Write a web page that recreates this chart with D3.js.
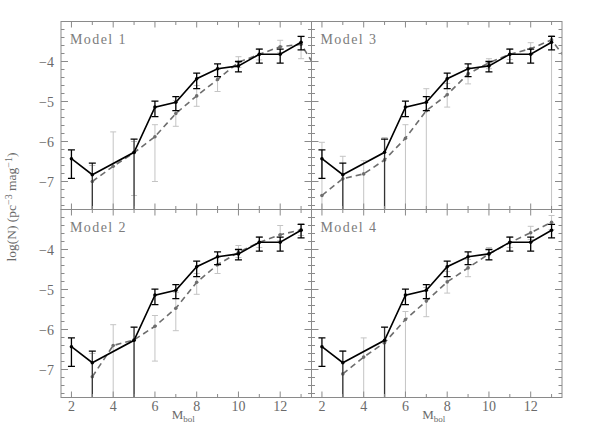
<!DOCTYPE html>
<html><head><meta charset="utf-8">
<script src="https://cdn.jsdelivr.net/npm/d3@7"></script>
<style>body{margin:0;background:#fff}</style>
</head><body>
<svg id="c" width="598" height="447"></svg>
<script>
// ---- data ----
const xTickValues = [2,4,6,8,10,12];
const yTickValues = [-4,-5,-6,-7];
const panelNames = ["Model 1","Model 3","Model 2","Model 4"];
const BOTTOM = -9; // error bar extends beyond lower frame

// observed luminosity function (same in all panels)
const obsMag   = [2,3,5,6,7,8,9,10,11,12,13];
const obsLogN  = [-6.43,-6.83,-6.27,-5.14,-5.02,-4.43,-4.18,-4.11,-3.82,-3.82,-3.52];
const obsHi    = [-6.21,-6.54,-5.94,-4.99,-4.88,-4.29,-4.06,-4.00,-3.69,-3.69,-3.37];
const obsLo    = [-6.92,BOTTOM,BOTTOM,-5.38,-5.23,-4.68,-4.38,-4.26,-4.04,-4.04,-3.71];

// models
const m1Mag  = [3,4,5,6,7,8,9,10,11,12,13,14];
const m1LogN = [-7.00,-6.62,-6.28,-5.88,-5.30,-4.86,-4.45,-4.02,-3.82,-3.63,-3.57,-4.40];
const m1Hi   = [-6.60,-5.76,-6.00,-5.58,-4.98,-4.60,-4.20,-3.88,-3.68,-3.47,-3.38,null];
const m1Lo   = [BOTTOM,BOTTOM,-7.35,-7.00,-5.62,-5.12,-4.75,-4.15,-3.96,-3.78,-3.93,null];

const m3Mag  = [2,3,4,5,6,7,8,9,10,11,12,13,14];
const m3LogN = [-7.35,-6.93,-6.81,-6.46,-5.92,-5.23,-4.83,-4.31,-4.03,-3.82,-3.68,-3.46,-4.16];
const m3Hi   = [-6.02,-6.37,-6.48,-5.90,-5.58,-4.68,-4.55,-4.15,-3.93,-3.68,-3.53,-3.35,null];
const m3Lo   = [BOTTOM,BOTTOM,BOTTOM,BOTTOM,BOTTOM,BOTTOM,-5.14,-4.56,-4.18,-3.95,-3.82,BOTTOM,null];

const m2Mag  = [3,4,5,6,7,8,9,10,11,12,13];
const m2LogN = [-7.18,-6.40,-6.26,-5.92,-5.47,-4.82,-4.38,-4.07,-3.82,-3.63,-3.51];
const m2Hi   = [-6.60,-5.88,-5.95,-5.65,-5.07,-4.60,-4.20,-3.90,-3.68,-3.40,-3.35];
const m2Lo   = [BOTTOM,BOTTOM,BOTTOM,-6.79,-6.03,-5.12,-4.60,-4.20,-3.95,-3.78,-3.65];

const m4Mag  = [3,4,5,6,7,8,9,10,11,12,13];
const m4LogN = [-7.11,-6.69,-6.33,-5.75,-5.29,-4.81,-4.46,-4.11,-3.83,-3.58,-3.32];
const m4Hi   = [-6.53,-6.21,-5.95,-5.55,-4.95,-4.55,-4.25,-3.95,-3.68,-3.42,-3.15];
const m4Lo   = [BOTTOM,BOTTOM,BOTTOM,BOTTOM,-5.68,-5.09,-4.68,-4.25,-3.95,-3.75,-3.50];

const models = [
  {mag:m1Mag, v:m1LogN, hi:m1Hi, lo:m1Lo},
  {mag:m3Mag, v:m3LogN, hi:m3Hi, lo:m3Lo},
  {mag:m2Mag, v:m2LogN, hi:m2Hi, lo:m2Lo},
  {mag:m4Mag, v:m4LogN, hi:m4Hi, lo:m4Lo}
];

// ---- layout ----
const svg = d3.select("#c");
const L = 61, W = 250.5, T = 21.5, H = 188;
const frameCol = "#8a8a8a", textCol = "#6a6a6a";
const x0 = d3.scaleLinear().domain([1.5,13.5]).range([0,W]);
const y0 = d3.scaleLinear().domain([-7.7,-3.0]).range([H,0]);

const defs = svg.append("defs");
defs.append("clipPath").attr("id","clip").append("rect").attr("width",W).attr("height",H);

panelNames.forEach((name,i)=>{
  const col = i%2, row = Math.floor(i/2);
  const g = svg.append("g").attr("transform",`translate(${L+col*W},${T+row*H})`);
  const m = models[i];
  const plot = g.append("g").attr("clip-path","url(#clip)");

  // model error bars (light gray)
  m.mag.forEach((mg,k)=>{
    if(m.hi[k]==null) return;
    const xx = x0(mg);
    plot.append("line").attr("x1",xx).attr("x2",xx).attr("y1",y0(m.hi[k])).attr("y2",y0(m.lo[k]))
      .attr("stroke","#c4c4c4").attr("stroke-width",1);
    [m.hi[k],m.lo[k]].forEach(v=>{ if(v>BOTTOM) plot.append("line").attr("x1",xx-3).attr("x2",xx+3)
      .attr("y1",y0(v)).attr("y2",y0(v)).attr("stroke","#c4c4c4").attr("stroke-width",1);});
  });

  // model dashed line
  const line = d3.line().x(d=>x0(d[0])).y(d=>y0(d[1]));
  const mdata = m.mag.map((mg,k)=>[mg,m.v[k]]);
  plot.append("path").attr("d",line(mdata)).attr("fill","none")
    .attr("stroke","#6e6e6e").attr("stroke-width",1.6).attr("stroke-dasharray","6,4");
  plot.selectAll(null).data(mdata).enter().append("circle")
    .attr("cx",d=>x0(d[0])).attr("cy",d=>y0(d[1])).attr("r",1.8).attr("fill","#6e6e6e");

  // observed error bars
  obsMag.forEach((mg,k)=>{
    const xx = x0(mg);
    plot.append("line").attr("x1",xx).attr("x2",xx).attr("y1",y0(obsHi[k])).attr("y2",y0(obsLo[k]))
      .attr("stroke",obsLo[k]>BOTTOM?"#000":"#333").attr("stroke-width",1.3);
    [obsHi[k],obsLo[k]].forEach(v=>{ if(v>BOTTOM) plot.append("line").attr("x1",xx-3.5).attr("x2",xx+3.5)
      .attr("y1",y0(v)).attr("y2",y0(v)).attr("stroke","#000").attr("stroke-width",1.3);});
  });
  const odata = obsMag.map((mg,k)=>[mg,obsLogN[k]]);
  plot.append("path").attr("d",line(odata)).attr("fill","none")
    .attr("stroke","#000").attr("stroke-width",1.6);
  plot.selectAll(null).data(odata).enter().append("circle")
    .attr("cx",d=>x0(d[0])).attr("cy",d=>y0(d[1])).attr("r",1.8).attr("fill","#000");

  // frame
  g.append("rect").attr("width",W).attr("height",H).attr("fill","none")
    .attr("stroke",frameCol).attr("stroke-width",1);

  // ticks (inward on all four sides)
  const tk = g.append("g").attr("stroke",frameCol).attr("stroke-width",1);
  d3.range(2,14).forEach(v=>{
    const len = v%2===0 ? 6 : 3.5, xx = x0(v);
    tk.append("line").attr("x1",xx).attr("x2",xx).attr("y1",0).attr("y2",len);
    tk.append("line").attr("x1",xx).attr("x2",xx).attr("y1",H).attr("y2",H-len);
  });
  d3.range(-76,-29,2).forEach(t=>{
    const v = t/10, major = t%10===0, len = major?7:3.5, yy = y0(v);
    tk.append("line").attr("x1",0).attr("x2",len).attr("y1",yy).attr("y2",yy);
    tk.append("line").attr("x1",W).attr("x2",W-len).attr("y1",yy).attr("y2",yy);
  });

  // tick labels
  if(col===0){
    g.selectAll(null).data(yTickValues).enter().append("text")
      .attr("x",-7).attr("y",d=>y0(d)+5).attr("text-anchor","end")
      .attr("font-family","Liberation Serif").attr("font-size",14).attr("fill",textCol)
      .text(d=>"\u2212"+Math.abs(d));
  }
  if(row===1){
    g.selectAll(null).data(xTickValues).enter().append("text")
      .attr("x",d=>x0(d)).attr("y",H+13).attr("text-anchor","middle")
      .attr("font-family","Liberation Serif").attr("font-size",14).attr("fill",textCol)
      .text(d=>d);
    const xl = g.append("text").attr("x",W/2-3).attr("y",H+21).attr("text-anchor","middle")
      .attr("font-family","Liberation Serif").attr("font-size",13).attr("fill",textCol);
    xl.append("tspan").text("M");
    xl.append("tspan").attr("font-size",9).attr("dy",3).text("bol");
  }

  g.append("text").attr("x",9).attr("y",22).attr("font-family","Liberation Serif")
    .attr("letter-spacing",1.4).attr("font-size",14).attr("fill","#7c7c7c").text(name);
});

// y-axis label
const yl = svg.append("text").attr("transform",`translate(16,207) rotate(-90)`)
  .attr("text-anchor","middle").attr("font-family","Liberation Serif").attr("font-size",13.5).attr("fill",textCol);
yl.append("tspan").text("log(N)  (pc");
yl.append("tspan").attr("font-size",10).attr("dy",-4).text("\u22123");
yl.append("tspan").attr("dy",4).text(" mag");
yl.append("tspan").attr("font-size",10).attr("dy",-4).text("\u22121");
yl.append("tspan").attr("dy",4).text(")");
</script>
</body></html>
